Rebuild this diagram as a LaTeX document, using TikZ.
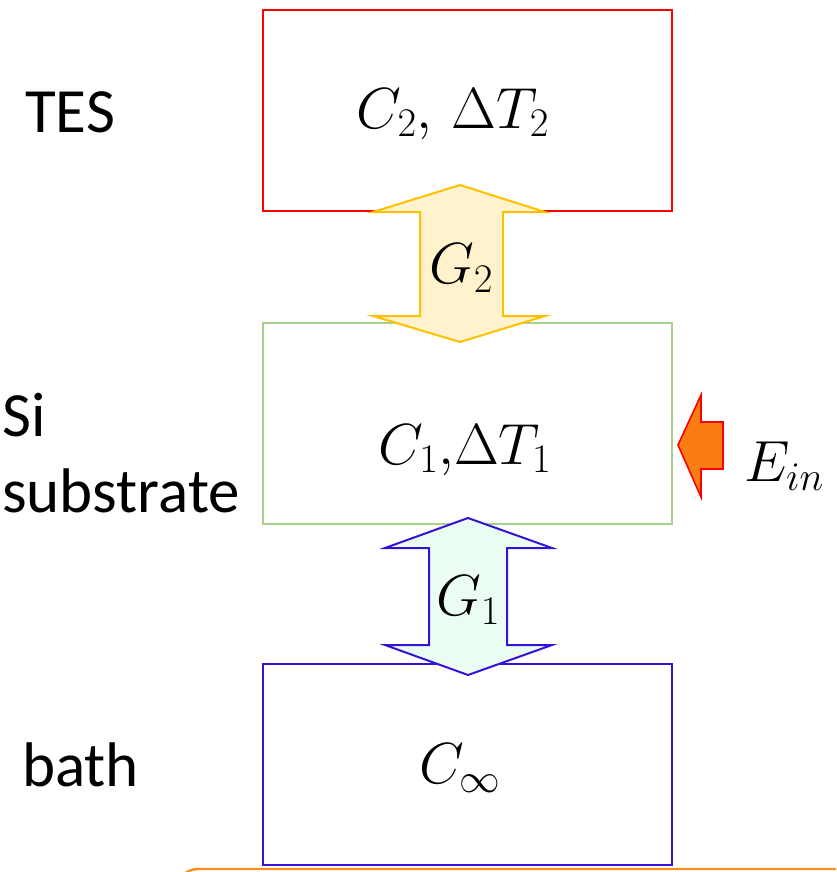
\documentclass[tikz,border=0pt]{standalone}
\usepackage{fix-cm}
\usepackage[no-math]{fontspec}
\newfontfamily\labelfont{Carlito}
\usepackage{tikz}

\definecolor{tesred}{RGB}{255,0,0}
\definecolor{sigreen}{RGB}{169,209,142}
\definecolor{bathblue}{RGB}{51,20,214}
\definecolor{linkyellow}{RGB}{255,192,0}
\definecolor{linkcream}{RGB}{255,242,204}
\definecolor{linkmint}{RGB}{235,252,243}
\definecolor{heatorange}{RGB}{250,125,20}
\definecolor{noteorange}{RGB}{255,140,30}

\tikzset{
  stage/.style={draw, line width=2pt, minimum width=409pt, minimum height=201pt,
    inner sep=0pt, font=\fontsize{58}{70}\selectfont},
  layerlabel/.style={anchor=west, align=left, inner sep=0pt,
    font=\labelfont\fontsize{63}{76}\selectfont},
  linklabel/.style={inner sep=0pt, font=\fontsize{58}{70}\selectfont},
}

\begin{document}
\begin{tikzpicture}[x=1pt, y=-1pt]
        \useasboundingbox (0,0) rectangle (836,872);

        % Couches thermiques
        \node [stage, draw=tesred] (tes) at (467.5,110.5) {};
        \node [linklabel] (c2) at (453,114) {$C_2,\,\Delta T_2$};
        \node [stage, draw=sigreen] (si) at (467.5,423.5) {};
        \node [linklabel] (c1) at (465,450) {$C_1{,}\Delta T_1$};
        \node [stage, draw=bathblue] (bath) at (467.5,764) {};
        \node [linklabel] (cinf) at (460,768) {$C_\infty$};

        % Noms des couches
        \node [layerlabel] (teslabel) at (25,112) {TES};
        \node [layerlabel] (silabel) at (2,453) {Si\\substrate};
        \node [layerlabel] (bathlabel) at (22,765) {bath};

        % Lien G2 (TES - substrat)
        \draw [linkyellow, fill=linkcream, line width=2pt, line join=miter]
          (460,185) -- (545,212) -- (503,212) -- (503,316) -- (545,316) -- (460,342)
          -- (373,316) -- (420,316) -- (420,212) -- (373,212) -- cycle;
        \node [linklabel] (g2) at (461,268) {$G_2$};

        % Lien G1 (substrat - bain)
        \draw [bathblue, fill=linkmint, line width=2pt, line join=miter]
          (468,518) -- (552,548) -- (507,548) -- (507,645) -- (552,645) -- (468,675)
          -- (385,645) -- (429,645) -- (429,548) -- (385,548) -- cycle;
        \node [linklabel] (g1) at (468,600) {$G_1$};

        % Energie deposee
        \draw [tesred, fill=heatorange, line width=1.6pt, line join=miter]
          (678,445) -- (701,395) -- (701,422) -- (723,422) -- (723,469)
          -- (701,469) -- (701,497) -- cycle;
        \node [linklabel] (ein) at (784,466) {$E_{in}$};

        % Cadre du bas (coupe)
        \begin{scope}
          \clip (0,0) rectangle (836,872);
          \draw [noteorange, line width=2.4pt, rounded corners=22pt]
            (176,869) rectangle (960,990);
        \end{scope}
\end{tikzpicture}
\end{document}
